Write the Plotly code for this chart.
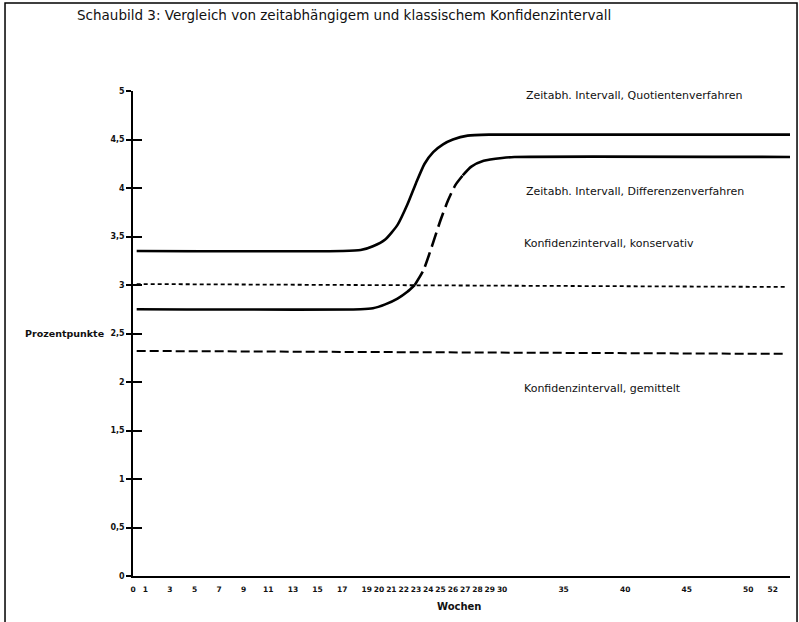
import plotly.graph_objects as go

# ---- data ----
weeks_quot = [0.3, 17, 18.5, 19.5, 20.5, 21.5, 22.3, 23, 23.7, 24.4, 25.2, 26, 27.2, 29, 53.4]
val_quot = [3.35, 3.35, 3.36, 3.40, 3.47, 3.62, 3.83, 4.05, 4.25, 4.37, 4.45, 4.50, 4.54, 4.55, 4.55]

weeks_diff = [0.3, 18.5, 19.5, 20.5, 21.5, 22.3, 22.9, 23.6, 24.3, 25.0, 25.6, 26.2, 26.8, 27.5, 28.5, 30, 31, 53.4]
val_diff = [2.75, 2.75, 2.76, 2.80, 2.86, 2.93, 3.00, 3.15, 3.40, 3.67, 3.87, 4.03, 4.13, 4.22, 4.28, 4.31, 4.32, 4.32]

weeks_kons = [0.3, 53.0]
val_kons = [3.01, 2.98]

weeks_gem = [0.3, 53.0]
val_gem = [2.32, 2.29]

x_ticks = [0, 1, 3, 5, 7, 9, 11, 13, 15, 17, 19, 20, 21, 22, 23, 24, 25, 26, 27, 28, 29, 30, 35, 40, 45, 50, 52]
y_ticks = [0, 0.5, 1, 1.5, 2, 2.5, 3, 3.5, 4, 4.5, 5]
y_tick_text = ["0", "0,5", "1", "1,5", "2", "2,5", "3", "3,5", "4", "4,5", "5"]

title_text = "Schaubild 3: Vergleich von zeitabhängigem und klassischem Konfidenzintervall"
labels = [
    ("Zeitabh. Intervall, Quotientenverfahren", 31.8, 4.95),
    ("Zeitabh. Intervall, Differenzenverfahren", 31.8, 3.96),
    ("Konfidenzintervall, konservativ", 31.6, 3.43),
    ("Konfidenzintervall, gemittelt", 31.6, 1.93),
]

dash_start, dash_end = 6, 12  # indices of the dashed section of the Differenzen curve

FONT = "DejaVu Sans"
fig = go.Figure()

fig.add_trace(go.Scatter(x=weeks_quot, y=val_quot, mode="lines", line=dict(color="black", width=2.6, shape="spline", smoothing=0.6), hoverinfo="skip"))

fig.add_trace(go.Scatter(x=weeks_diff[:dash_start + 1], y=val_diff[:dash_start + 1], mode="lines",
                         line=dict(color="black", width=2.6, shape="spline", smoothing=0.6), hoverinfo="skip"))
fig.add_trace(go.Scatter(x=weeks_diff[dash_start:dash_end + 1], y=val_diff[dash_start:dash_end + 1], mode="lines",
                         line=dict(color="black", width=2.6, dash="15px,6px", shape="spline", smoothing=0.6), hoverinfo="skip"))
fig.add_trace(go.Scatter(x=weeks_diff[dash_end:], y=val_diff[dash_end:], mode="lines",
                         line=dict(color="black", width=2.6, shape="spline", smoothing=0.6), hoverinfo="skip"))

fig.add_trace(go.Scatter(x=weeks_kons, y=val_kons, mode="lines", line=dict(color="black", width=1.8, dash="4px,3px"), hoverinfo="skip"))
fig.add_trace(go.Scatter(x=weeks_gem, y=val_gem, mode="lines", line=dict(color="black", width=2.0, dash="9px,4px"), hoverinfo="skip"))

# invisible trace on the second y axis so it is drawn
fig.add_trace(go.Scatter(x=[1], y=[1], yaxis="y2", mode="markers", marker=dict(opacity=0), hoverinfo="skip"))

for txt, xx, yy in labels:
    fig.add_annotation(x=xx, y=yy, text=txt, showarrow=False, xanchor="left", yanchor="middle",
                       font=dict(family=FONT, size=11, color="#111"))

fig.add_annotation(xref="paper", yref="paper", x=-0.0883, y=1.1567, text=title_text, showarrow=False,
                   xanchor="left", yanchor="middle", font=dict(family=FONT, size=13.5, color="#111"))
fig.add_annotation(xref="paper", y=2.5, x=-0.1674, text="<b>Prozentpunkte</b>", showarrow=False,
                   xanchor="left", yanchor="middle", font=dict(family=FONT, size=9.5, color="#111"))
fig.add_annotation(x=26.5, yref="paper", y=-0.062, text="<b>Wochen</b>", showarrow=False,
                   xanchor="center", yanchor="middle", font=dict(family=FONT, size=10, color="#111"))

# frame around the whole chart
fig.add_shape(type="rect", xref="paper", yref="paper", x0=-0.1948, x1=1.0107, y0=-0.12, y1=1.1814,
              line=dict(color="black", width=1.5))

fig.update_layout(
    width=799, height=622,
    margin=dict(l=133, r=9, t=91, b=46),
    paper_bgcolor="white", plot_bgcolor="white",
    showlegend=False,
    xaxis=dict(range=[0, 53.4], tickvals=x_ticks, ticktext=[str(v) for v in x_ticks], tickangle=0,
               showgrid=False, zeroline=False, showline=True, linecolor="black", linewidth=1.5,
               ticks="outside", ticklen=5, tickcolor="rgba(0,0,0,0)",
               tickfont=dict(family=FONT, size=7.5, color="#111", weight="bold"), fixedrange=True),
    yaxis=dict(range=[0, 5], tickvals=y_ticks, ticktext=y_tick_text,
               showgrid=False, zeroline=False, showline=True, linecolor="black", linewidth=1.5,
               ticks="outside", ticklen=5, tickwidth=1.5, tickcolor="black",
               tickfont=dict(family=FONT, size=8, color="#111", weight="bold"), fixedrange=True),
    yaxis2=dict(range=[0, 5], overlaying="y", side="left", anchor="x", tickvals=y_ticks, showticklabels=False,
                showgrid=False, zeroline=False, showline=False,
                ticks="inside", ticklen=9, tickwidth=1.5, tickcolor="black", fixedrange=True),
)

fig.write_html("out.html", config={"displayModeBar": False},
               post_script="document.body.style.margin='0';document.body.style.overflow='hidden';")
